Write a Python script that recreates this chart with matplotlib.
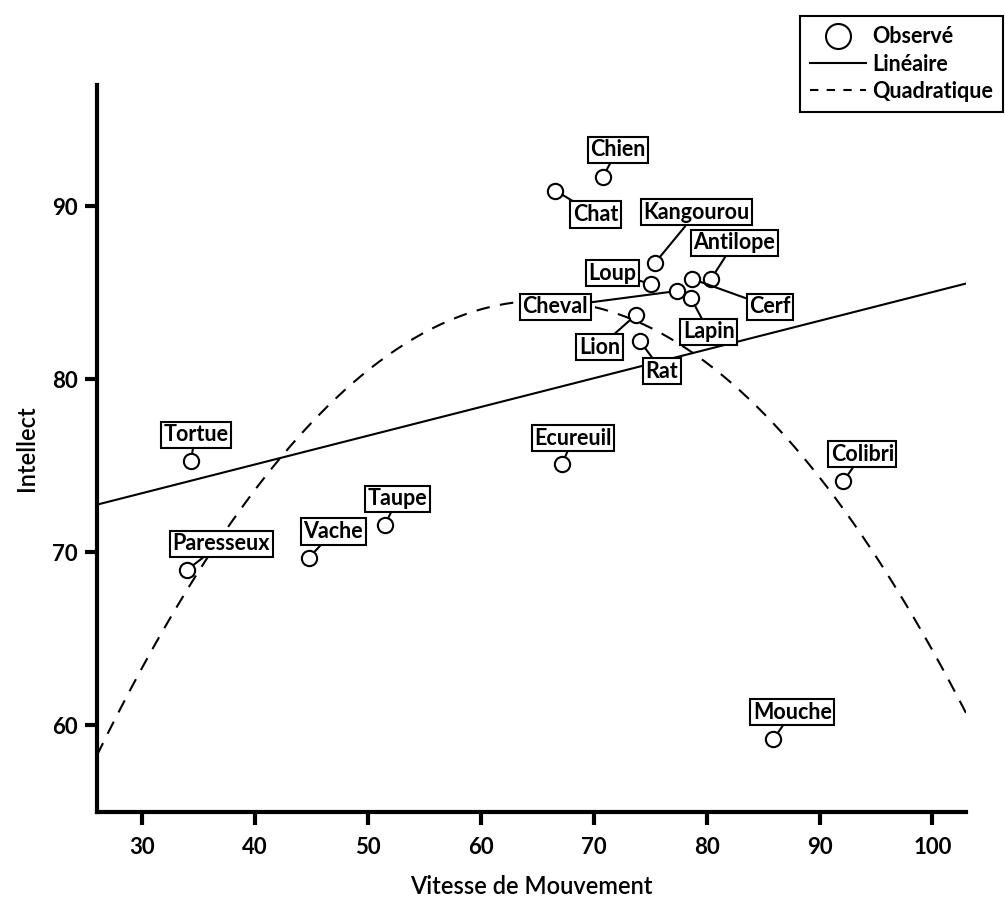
import matplotlib.pyplot as plt
import numpy as np
from matplotlib.lines import Line2D

# Data
animals = ['Chien', 'Chat', 'Kangourou', 'Loup', 'Antilope', 'Cerf', 'Lapin',
           'Cheval', 'Lion', 'Rat', 'Tortue', 'Paresseux', 'Vache', 'Taupe',
           'Ecureuil', 'Colibri', 'Mouche']
speed = [70.8, 66.6, 75.4, 75.1, 80.4, 78.7, 78.6, 77.4, 73.7, 74.1,
         34.3, 34.0, 44.8, 51.5, 67.2, 92.1, 85.9]
intellect = [91.7, 90.9, 86.7, 85.5, 85.8, 85.8, 84.7, 85.1, 83.7, 82.2,
             75.3, 69.0, 69.7, 71.6, 75.1, 74.1, 59.2]

# label offsets (pixels) from each point
label_offsets = [(15, 27), (40, -24), (42, 51), (-39, 11), (23, 36), (78, -28),
                 (18, -34), (-122, -16), (-36, -32), (22, -30), (5, 26),
                 (34, 26), (24, 26), (13, 26), (11, 26), (19, 27), (19, 27)]

x_ticks = [30, 40, 50, 60, 70, 80, 90, 100]
y_ticks = [60, 70, 80, 90]

plt.rcParams['font.family'] = ['Lato', 'DejaVu Sans']

fig = plt.figure(figsize=(10.05, 9.11), dpi=100)
ax = fig.add_axes([0.0965, 0.1087, 0.865, 0.798])

xs = np.array(speed)
ys = np.array(intellect)
xlim = (26, 103)

# fitted models
grid = np.linspace(xlim[0], xlim[1], 300)
lin = np.polyfit(xs, ys, 1)
quad = np.polyfit(xs, ys, 2)
ax.plot(grid, np.polyval(lin, grid), color='black', lw=1.5, zorder=2)
ax.plot(grid, np.polyval(quad, grid), color='black', lw=1.5,
        dashes=(6.5, 5), zorder=2)

ax.plot(xs, ys, 'o', ms=11, mfc='none', mec='black', mew=1.5, zorder=4)

for name, x, y, off in zip(animals, xs, ys, label_offsets):
    ax.annotate(name, (x, y), xytext=off, textcoords='offset pixels',
                ha='center', va='center', fontsize=15.5, fontweight='bold',
                bbox=dict(boxstyle='square,pad=0.12', fc='white', ec='black', lw=1.5),
                arrowprops=dict(arrowstyle='-', color='black', lw=1.5,
                                shrinkA=0, shrinkB=6),
                zorder=5)

ax.set_xlim(*xlim)
ax.set_ylim(55, 97)
ax.set_xticks(x_ticks)
ax.set_yticks(y_ticks)
for s in ['top', 'right']:
    ax.spines[s].set_visible(False)
for s in ['left', 'bottom']:
    ax.spines[s].set_linewidth(3)
ax.tick_params(width=3, length=9, labelsize=16)
ax.tick_params(axis='x', pad=9)
ax.tick_params(axis='y', pad=5)
for lab in ax.get_xticklabels() + ax.get_yticklabels():
    lab.set_fontweight('bold')

ax.set_xlabel('Vitesse de Mouvement', fontsize=17, fontweight='semibold', labelpad=12)
ax.set_ylabel('Intellect', fontsize=17, fontweight='semibold', labelpad=10)

handles = [
    Line2D([], [], ls='none', marker='o', ms=18, mfc='none', mec='black', mew=1.5, label='Observé'),
    Line2D([], [], color='black', lw=1.5, label='Linéaire'),
    Line2D([], [], color='black', lw=1.5, dashes=(4, 4), label='Quadratique'),
]
leg = fig.legend(handles=handles, loc='upper right', bbox_to_anchor=(0.998, 0.982),
                 borderaxespad=0, fancybox=False, edgecolor='black', framealpha=1,
                 prop={'size': 15.5, 'weight': 'bold'}, handlelength=2.6,
                 handletextpad=0.3, borderpad=0.45, labelspacing=0.3)
leg.get_frame().set_linewidth(1.5)

fig.savefig('out.png', dpi=100)
